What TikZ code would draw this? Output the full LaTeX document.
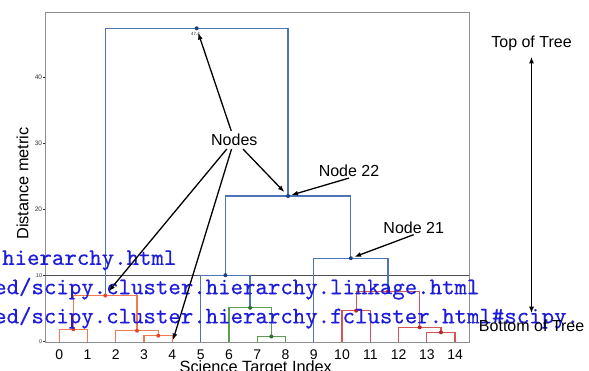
\documentclass[tikz,border=0pt]{standalone}
\usepackage{fontspec}
\setmainfont{Liberation Sans}
\newfontfamily\urlfont{lmmono10-regular.otf}[FakeBold=0.4]
\usetikzlibrary{arrows.meta}

% dendrogram palette
\definecolor{treeblue}{HTML}{4D74B5}
\definecolor{treeorange}{HTML}{F27A50}
\definecolor{treegreen}{HTML}{5A9E4E}
\definecolor{treered}{HTML}{D45555}
\definecolor{dotblue}{HTML}{1F3F80}
\definecolor{dotorange}{HTML}{E8452A}
\definecolor{dotgreen}{HTML}{2F6E2F}
\definecolor{dotred}{HTML}{B82424}
\definecolor{urlblue}{RGB}{28,28,218}
\definecolor{framegrey}{HTML}{8E8E8E}
\definecolor{cutgrey}{HTML}{505050}

\begin{document}
\begin{tikzpicture}[x=1pt,y=-1pt,
  link/.style={line width=1.25pt},
  ytick/.style={font=\fontsize{6.5}{7}\selectfont, text=black!80, anchor=east, inner sep=0pt},
  xtick/.style={font=\fontsize{14}{16}\selectfont, anchor=base, inner sep=0pt},
  axlabel/.style={font=\fontsize{16.3}{18}\selectfont, inner sep=0pt},
  note/.style={font=\fontsize{16}{18}\selectfont, anchor=base},
  urltext/.style={font=\urlfont\fontsize{23.7}{26}\selectfont, text=urlblue, anchor=base west, inner sep=0pt},
  arr/.style={line width=1.3pt, -{Latex[length=6.5pt,width=5pt]}},
  dblarr/.style={line width=1.3pt, {Latex[length=6.5pt,width=5pt]}-{Latex[length=6.5pt,width=5pt]}}]

\useasboundingbox (0,0) rectangle (589,370);

% axes frame and y ticks
\draw[framegrey, line width=1pt] (45.3,12.3) rectangle (469,342);
\foreach \v/\y in {20/209.3,30/143.3,40/77.3}{
  \draw[black!80, line width=0.6pt] (43,\y) -- (45.3,\y);
  \node[ytick] (yt\v) at (42.3,\y) {\v};
}
\foreach \v/\y in {0/341.3,10/275.7}{
  \draw[black!80, line width=0.6pt] (43,\y) -- (45.3,\y);
  \node[ytick, font=\fontsize{5.5}{6}\selectfont] (yt\v) at (42.3,\y) {\v};
}

% leaves and x tick labels
\foreach \i in {0,...,14}{
  \coordinate (l\i) at ({59.3+28.27*\i},342);
  \node[xtick] (xt\i) at ({59.3+28.27*\i},359.3) {\i};
}

% merge points
\coordinate (n01)   at (73.43,329.3);
\coordinate (n34)   at (158.25,335.7);
\coordinate (n234)  at (137.04,330.7);
\coordinate (nA)    at (105.24,295.5);
\coordinate (n78)   at (271.33,336.5);
\coordinate (n678)  at (250.12,307.8);
\coordinate (n5)    at (225.39,275.2);
\coordinate (n1011) at (356.14,310.7);
\coordinate (n1314) at (440.95,332.3);
\coordinate (n12)   at (419.74,327.3);
\coordinate (nR)    at (387.94,291.7);
\coordinate (n9)    at (350.84,258.2);
\coordinate (n22)   at (288.11,196);
\coordinate (ntop)  at (196.68,28.3);

% cut line at distance 10
\draw[cutgrey, line width=1.3pt] (45.3,275.7) -- (469,275.7);

% first cluster
\draw[link,treeorange] (l0) |- (n01) -| (l1);
\draw[link,treeorange] (l3) |- (n34) -| (l4);
\draw[link,treeorange] (l2) |- (n234) -| (n34);
\draw[link,treeorange] (n01) |- (nA) -| (n234);
% second cluster
\draw[link,treegreen] (l7) |- (n78) -| (l8);
\draw[link,treegreen] (l6) |- (n678) -| (n78);
% third cluster
\draw[link,treered] (l10) |- (n1011) -| (l11);
\draw[link,treered] (l13) |- (n1314) -| (l14);
\draw[link,treered] (l12) |- (n12) -| (n1314);
\draw[link,treered] (n1011) |- (nR) -| (n12);
% upper links
\draw[link,treeblue] (l5) |- (n5) -| (n678);
\draw[link,treeblue] (l9) |- (n9) -| (nR);
\draw[link,treeblue] (n5) |- (n22) -| (n9);
\draw[link,treeblue] (nA) |- (ntop) -| (n22);

% node markers
\foreach \p in {n01,n34,n234,nA}{\fill[dotorange] (\p) circle (2pt);}
\foreach \p in {n78,n678}{\fill[dotgreen] (\p) circle (2pt);}
\foreach \p in {n1011,n1314,n12,nR}{\fill[dotred] (\p) circle (2pt);}
\foreach \p in {n5,n9,n22,ntop}{\fill[dotblue] (\p) circle (2pt);}
\node[font=\fontsize{4.5}{5}\selectfont, inner sep=0pt, text=black!80] (toph) at (195.5,33.5) {47.4};

% axis titles
\node[axlabel, anchor=base] (xlab) at (255.8,372.8) {Science Target Index};
\node[axlabel, anchor=base, rotate=90] (ylab) at (28.3,183.6) {Distance metric};

% documentation links
\node[urltext] (url1) at (2,264.9) {hierarchy.html};
\node[urltext] (url2) at (-6,294.2) {ed/scipy.cluster.hierarchy.linkage.html};
\node[urltext] (url3) at (-6,323.3) {ed/scipy.cluster.hierarchy.fcluster.html\#scipy.};

% annotations
\node[note, inner sep=3pt] (nodes) at (234.3,145.7) {Nodes};
\draw[arr, shorten >=5pt] (nodes) -- (ntop);
\draw[arr, shorten >=5.5pt] (nodes) -- (n22);
\draw[arr, shorten >=5.5pt] (nodes) -- (nA);
\draw[arr, shorten >=2pt] (nodes) -- (l4);

\node[note, inner sep=1pt] (lab22) at (349,176.7) {Node 22};
\draw[arr, shorten >=3.5pt] (lab22.south) -- (n22);
\node[note, inner sep=1pt] (lab21) at (413.7,233.3) {Node 21};
\draw[arr, shorten >=4pt] (lab21.south) -- (n9);

\node[note, inner sep=0pt] (toplab) at (531.5,47.7) {Top of Tree};
\node[note, inner sep=0pt] (botlab) at (531.6,331) {Bottom of Tree};
\draw[dblarr, shorten <=5.6pt, shorten >=6pt] (toplab.south) -- (toplab.south |- botlab.north);
\end{tikzpicture}
\end{document}
